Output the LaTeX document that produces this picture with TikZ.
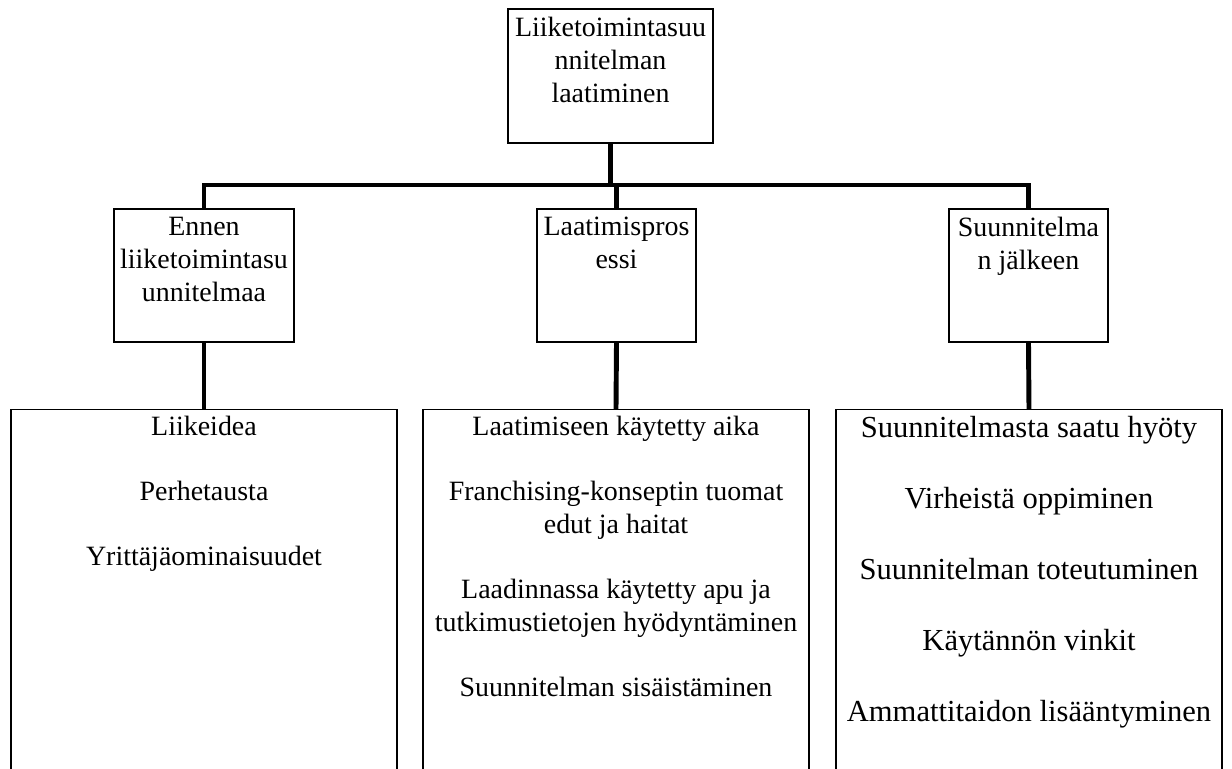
\documentclass[tikz,border=0pt]{standalone}
\usepackage{fontspec}
\setmainfont{Liberation Serif}
\usetikzlibrary{positioning}

\begin{document}
\begin{tikzpicture}[
  box/.style={draw, line width=0.6pt, minimum width=#1, minimum height=2.66cm, inner sep=0pt},
  listbox/.style={draw, line width=0.6pt, minimum width=7.72cm, minimum height=9cm, inner sep=0pt, anchor=north},
  boxtext/.style={align=center, inner sep=0pt, font=\fontsize{15.9}{18.8}\selectfont},
  bigtext/.style={align=center, inner sep=0pt, font=\fontsize{17.4}{20.5}\selectfont},
  link/.style={line width=2.8pt, line join=miter}
]
  \useasboundingbox (0,0) rectangle (24.64,-15.38);
  \clip (0,0) rectangle (24.64,-15.38);

  % top level
  \node[box=4.1cm, minimum height=2.68cm] (plan) at (12.21,-1.52) {};
  \node[boxtext, below=0.17cm of plan.north] (plantext) {Liiketoimintasuu\\nnitelman\\laatiminen};

  % middle level
  \node[box=3.6cm] (ennen) at (4.08,-5.51) {};
  \node[box=3.18cm] (prosessi) at (12.33,-5.51) {};
  \node[box=3.18cm] (jalkeen) at (20.57,-5.51) {};
  \node[boxtext, below=0.16cm of ennen.north] (ennentext) {Ennen\\liiketoimintasu\\unnitelmaa};
  \node[boxtext, below=0.16cm of prosessi.north] (prosessitext) {Laatimispros\\essi};
  \node[boxtext, below=0.16cm of jalkeen.north] (jalkeentext) {Suunnitelma\\n jälkeen};

  % lists
  \node[listbox] (ennenlist) at (4.08,-8.18) {};
  \node[listbox] (prosessilist) at (12.32,-8.18) {};
  \node[listbox] (jalkeenlist) at (20.58,-8.18) {};
  \node[boxtext, below=0.14cm of ennenlist.north] (ennenitems)
    {Liikeidea\\[0.64cm]Perhetausta\\[0.64cm]Yrittäjäominaisuudet};
  \node[boxtext, below=0.14cm of prosessilist.north] (prosessiitems)
    {Laatimiseen käytetty aika\\[0.64cm]Franchising-konseptin tuomat\\edut ja haitat\\[0.64cm]%
     Laadinnassa käytetty apu ja\\tutkimustietojen hyödyntäminen\\[0.64cm]Suunnitelman sisäistäminen};
  \node[bigtext, below=0.145cm of jalkeenlist.north] (jalkeenitems)
    {Suunnitelmasta saatu hyöty\\[0.7cm]Virheistä oppiminen\\[0.7cm]Suunnitelman toteutuminen\\[0.7cm]%
     Käytännön vinkit\\[0.7cm]Ammattitaidon lisääntyminen};

  % connectors
  \coordinate (bar) at (0,-3.70);
  \draw[link] (plan.south) -- (plan.south |- bar);
  \draw[link] (ennen.north) -- (ennen.north |- bar) -- (jalkeen.north |- bar) -- (jalkeen.north);
  \draw[link] (prosessi.north |- bar) -- (prosessi.north);
  \foreach \a/\b in {ennen/ennenlist, prosessi/prosessilist, jalkeen/jalkeenlist}
    \draw[link] (\a.south) -- (\b.north);
\end{tikzpicture}
\end{document}
